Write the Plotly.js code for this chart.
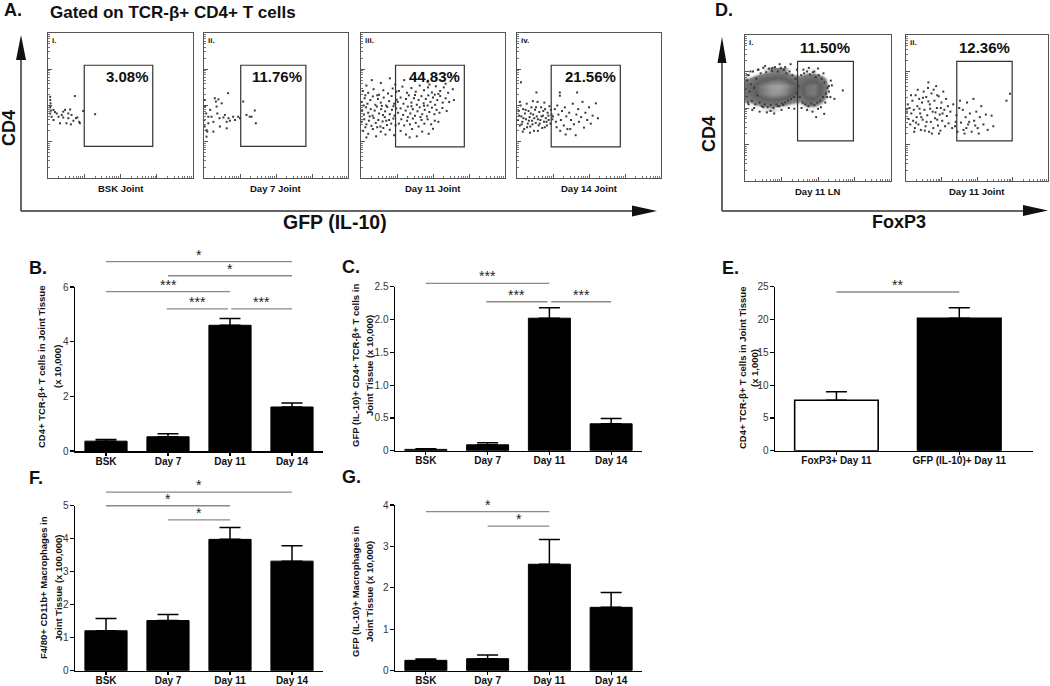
<!DOCTYPE html>
<html><head><meta charset="utf-8">
<script src="https://cdn.plot.ly/plotly-3.0.1.min.js"></script>
<style>html,body{margin:0;padding:0;background:#fff}#chart{width:1050px;height:686px}</style>
</head><body><div id="chart"></div>
<script>
// ================= DATA =================
// Bar charts (means, SEM = error bar above mean)
const dayCats = ['BSK', 'Day 7', 'Day 11', 'Day 14'];
const cd4Counts = [0.36, 0.52, 4.60, 1.61];        // B (x 10,000)
const cd4Sem    = [0.06, 0.11, 0.25, 0.15];
const gfpCd4Counts = [0.02, 0.09, 2.02, 0.41];     // C (x 10,000)
const gfpCd4Sem    = [0.01, 0.03, 0.16, 0.08];
const eCats = ['FoxP3+ Day 11', 'GFP (IL-10)+ Day 11'];
const eCounts = [7.7, 20.2];                        // E (x 1,000)
const eSem    = [1.3, 1.6];
const macCounts = [1.21, 1.52, 3.98, 3.32];         // F (x 100,000)
const macSem    = [0.37, 0.18, 0.36, 0.47];
const gfpMacCounts = [0.25, 0.29, 2.57, 1.53];      // G (x 10,000)
const gfpMacSem    = [0.03, 0.09, 0.60, 0.36];

// significance brackets: [fromCat, toCat, level, stars]
const sigB = [[0, 3, 6.93, '*'], [1, 3, 6.41, '*'], [0, 2, 5.83, '***'], [0.98, 1.97, 5.2, '***'], [2.02, 3, 5.2, '***']];
const sigC = [[0, 2, 2.55, '***'], [0.98, 1.97, 2.27, '***'], [2.03, 3, 2.27, '***']];
const sigE = [[0, 1, 24.2, '**']];
const sigF = [[0, 3, 5.41, '*'], [0, 2, 5.0, '*'], [1, 2, 4.57, '*']];
const sigG = [[0, 2, 3.84, '*'], [1, 2, 3.49, '*']];

// Flow cytometry events, in log decades [GFP/FoxP3, CD4]
const flowBSK = [[0.06,2.24],[0.06,2.15],[0.07,2.06],[0.06,1.95],[0.08,1.86],[0.06,1.78],[0.10,1.69],[0.15,1.88],[0.19,1.82],[0.29,1.69],[0.38,1.74],[0.42,1.83],[0.47,1.88],[0.33,1.51],[0.51,1.51],[0.56,1.65],[0.61,1.89],[0.63,1.48],[0.65,1.74],[0.70,1.58],[0.74,2.26],[0.77,1.65],[0.81,1.67],[0.86,1.55],[0.88,1.51],[0.97,1.85],[1.30,1.76],[0.15,1.60],[0.24,1.78],[0.42,1.67],[0.56,1.78],[0.07,1.99]];
const flowDay7 = [[0.03,1.97],[0.06,1.78],[0.07,1.32],[0.09,1.28],[0.12,1.69],[0.17,1.88],[0.21,1.69],[0.26,1.55],[0.30,2.20],[0.33,2.11],[0.35,1.97],[0.37,1.78],[0.40,2.17],[0.43,1.65],[0.44,1.42],[0.49,2.06],[0.54,1.67],[0.58,1.74],[0.63,1.55],[0.67,2.34],[0.68,1.65],[0.72,1.58],[0.81,1.69],[0.86,1.60],[0.95,1.69],[1.00,1.65],[1.09,2.11],[1.18,1.74],[1.27,1.69],[1.32,1.69],[1.41,1.86],[1.44,1.51],[0.07,1.14],[0.26,1.28],[0.63,1.37],[0.12,1.51],[0.01,1.60],[0.02,1.42],[0.02,2.15]];
const flowDay11 = [[0.3,2.7],[0.55,2.62],[0.8,2.75],[0.15,2.55],[0.95,2.58],
 [0.05,2.4],[0.2,2.35],[0.35,2.45],[0.5,2.3],[0.62,2.42],[0.75,2.33],[0.88,2.47],[0.98,2.38],[0.12,2.28],
 [0.02,2.1],[0.1,2.2],[0.18,2.05],[0.26,2.15],[0.33,2.25],[0.4,2.02],[0.47,2.18],[0.55,2.08],[0.63,2.22],[0.7,2.0],[0.78,2.12],[0.85,2.26],[0.92,2.05],[0.99,2.16],[0.07,2.0],[0.45,2.28],
 [0.03,1.85],[0.08,1.75],[0.14,1.95],[0.2,1.8],[0.27,1.9],[0.32,1.72],[0.38,1.86],[0.44,1.97],[0.5,1.78],[0.56,1.9],[0.61,1.74],[0.67,1.84],[0.73,1.96],[0.8,1.76],[0.86,1.88],[0.93,1.72],[0.98,1.92],[0.24,1.7],[0.58,1.99],[0.9,1.98],
 [0.02,1.55],[0.09,1.62],[0.15,1.48],[0.22,1.58],[0.29,1.44],[0.35,1.66],[0.41,1.52],[0.48,1.6],[0.54,1.42],[0.6,1.56],[0.66,1.68],[0.72,1.46],[0.78,1.6],[0.84,1.5],[0.9,1.64],[0.96,1.45],[0.12,1.4],[0.45,1.4],[0.7,1.58],
 [0.06,1.3],[0.2,1.22],[0.33,1.35],[0.42,1.15],[0.55,1.28],[0.68,1.2],[0.8,1.33],[0.92,1.18],[0.15,1.12],[0.62,1.38],
 [1.2,2.7],[1.5,2.78],[1.85,2.65],[2.1,2.75],[2.35,2.6],[2.5,2.85],[1.7,2.9],
 [1.05,2.4],[1.15,2.52],[1.28,2.35],[1.4,2.48],[1.52,2.38],[1.63,2.55],[1.75,2.42],[1.86,2.5],[1.97,2.36],[2.08,2.53],[2.2,2.4],[2.3,2.5],[2.42,2.35],[2.55,2.45],[1.9,2.58],[2.15,2.32],
 [1.02,2.1],[1.1,2.22],[1.18,2.05],[1.25,2.18],[1.33,2.28],[1.4,2.08],[1.47,2.2],[1.55,2.02],[1.6,2.15],[1.68,2.26],[1.74,2.06],[1.8,2.18],[1.87,2.28],[1.93,2.1],[2.0,2.22],[2.06,2.02],[2.12,2.15],[2.2,2.26],[2.27,2.08],[2.35,2.2],[2.45,2.1],[2.58,2.15],[1.5,2.29],[1.85,2.0],[2.05,2.3],
 [1.03,1.8],[1.1,1.92],[1.17,1.74],[1.24,1.86],[1.3,1.97],[1.37,1.78],[1.44,1.9],[1.5,1.72],[1.57,1.84],[1.63,1.95],[1.7,1.76],[1.77,1.88],[1.83,1.7],[1.9,1.82],[1.97,1.94],[2.04,1.76],[2.1,1.88],[2.18,1.8],[2.26,1.93],[2.38,1.85],[1.4,1.98],[1.75,1.99],
 [1.05,1.5],[1.12,1.62],[1.2,1.45],[1.28,1.58],[1.36,1.48],[1.44,1.64],[1.52,1.52],[1.6,1.42],[1.68,1.6],[1.76,1.5],[1.85,1.62],[1.95,1.48],[2.05,1.58],[2.15,1.55],[1.3,1.68],[1.65,1.68],
 [1.1,1.3],[1.25,1.2],[1.42,1.35],[1.55,1.15],[1.7,1.28],[1.88,1.22],[2.0,1.36],[1.35,1.12]];
const flowDay14 = [[0.03,1.6],[0.05,1.85],[0.08,1.45],[0.1,2.0],[0.12,1.7],[0.15,1.55],[0.17,1.9],[0.2,1.35],[0.22,1.78],[0.25,1.62],[0.27,2.05],[0.3,1.5],[0.32,1.85],[0.35,1.68],[0.37,1.42],[0.4,1.95],[0.42,1.58],[0.45,1.75],[0.47,1.3],[0.5,1.88],[0.52,1.52],[0.55,1.7],[0.57,2.1],[0.6,1.45],[0.62,1.82],[0.65,1.6],[0.67,1.95],[0.7,1.38],[0.72,1.72],[0.75,1.55],[0.78,1.9],[0.8,1.65],[0.83,1.45],[0.85,1.8],[0.88,1.6],[0.9,1.98],[0.93,1.5],[0.96,1.75],[0.98,1.62],
 [0.06,1.72],[0.13,1.48],[0.18,1.65],[0.24,1.88],[0.28,1.4],[0.33,1.58],[0.38,1.78],[0.43,1.48],[0.48,1.65],[0.53,1.95],[0.58,1.62],[0.63,1.5],[0.68,1.7],[0.73,1.85],[0.77,1.4],[0.82,1.55],[0.87,1.72],[0.94,1.88],[0.16,1.28],[0.36,1.25],[0.58,1.3],[0.08,2.1],[0.44,2.12],[0.76,2.08],
 [1.0,1.7],[1.05,1.9],[1.08,1.55],[1.12,2.0],[1.15,1.75],[1.19,2.36],[1.19,2.27],[1.22,1.6],[1.25,1.85],[1.3,1.45],[1.33,1.95],[1.37,1.7],[1.4,1.35],[1.45,1.8],[1.5,1.6],[1.55,2.05],[1.58,1.48],[1.63,1.18],[1.67,2.36],[1.65,1.75],[1.7,1.9],[1.72,1.55],[1.78,1.68],[1.82,2.1],[1.86,1.39],[1.9,1.8],[1.95,1.6],[2.0,1.95],[2.05,1.5],[2.1,1.72],[2.19,2.06],[2.25,1.65],[1.2,1.3],[1.35,1.2],[1.48,1.35],[1.1,1.4],
 [0.11,2.64],[0.54,2.36]];
const foxLN = [[0.02,2.5],[0.04,2.3],[0.06,2.75],[0.08,2.15],[0.1,2.9],[0.13,2.45],[0.16,2.65],[0.19,2.2],[0.22,3.0],[0.25,2.55],[0.28,2.1],[0.31,2.8],[0.34,2.35],[0.37,3.05],[0.4,2.15],[0.43,2.95],[0.46,2.05],[0.5,3.1],[0.54,2.1],[0.58,2.98],[0.62,2.02],[0.66,3.08],[0.7,2.08],[0.74,3.02],[0.78,2.0],[0.82,3.12],[0.86,2.1],[0.9,3.0],[0.94,2.05],[0.98,3.1],[1.02,2.12],[1.06,3.05],[1.1,2.15],[1.14,2.95],[1.18,2.2],[1.22,3.0],[1.26,2.25],[1.3,2.9],[1.34,2.3],[1.38,2.8],[1.42,2.4],[1.46,2.6],[1.5,2.3],[1.54,2.9],[1.58,2.15],[1.62,2.95],[1.66,2.1],[1.7,3.0],[1.74,2.05],[1.78,2.92],[1.82,2.12],[1.86,2.98],[1.9,2.08],[1.94,2.85],[1.98,2.15],[2.02,2.9],[2.06,2.2],[2.1,2.8],[2.14,2.3],[2.18,2.7],[2.22,2.4],[2.26,2.55],[2.3,2.45],[2.34,2.3],[2.38,2.62],
 [0.05,2.9],[0.1,2.1],[0.2,1.95],[0.35,3.05],[0.4,1.9],[0.55,3.15],[0.6,1.88],[0.75,3.1],[0.8,1.85],[0.95,3.2],[1.0,1.95],[1.1,3.12],[1.2,2.0],[1.25,3.2],[1.35,1.98],[1.42,3.05],[0.7,1.92],[0.5,2.02],[0.9,2.05],[1.6,3.05],[1.75,3.1],[1.9,3.0],[2.0,3.08],[2.15,2.95],[1.55,2.0],[1.7,1.95],[1.85,1.9],[2.0,1.98],[2.08,2.02],[2.17,1.84],[2.25,2.3],[2.3,2.6],[2.45,2.25],[2.35,2.75],[2.68,2.48],[2.2,2.15],[1.95,1.75],[0.25,2.0],[1.05,2.08],[0.15,3.0]];
// event density of the LN sample (relative), rows = CD4 decades, cols = FoxP3 decades
const foxLNDensX = [0.1,0.3,0.5,0.7,0.9,1.1,1.3,1.5,1.7,1.9,2.1,2.3,2.5];
const foxLNDensY = [2.0,2.2,2.4,2.6,2.8,3.0];
const foxLNDensZ = [
 [0.05,0.15,0.2,0.25,0.2,0.15,0.1,0.1,0.2,0.2,0.1,0,0],
 [0.3,0.4,0.5,0.55,0.5,0.45,0.35,0.3,0.5,0.5,0.3,0.1,0],
 [0.45,0.6,0.75,0.9,0.9,0.8,0.6,0.5,0.7,0.75,0.5,0.15,0],
 [0.5,0.65,0.8,0.95,1.0,0.9,0.7,0.55,0.7,0.75,0.55,0.2,0],
 [0.3,0.45,0.55,0.6,0.65,0.6,0.45,0.4,0.5,0.55,0.4,0.15,0],
 [0,0.1,0.2,0.3,0.35,0.3,0.15,0.1,0.2,0.2,0.1,0,0]];
const foxJoint = [[0.03,1.9],[0.05,2.1],[0.07,1.7],[0.1,2.0],[0.12,1.55],[0.15,1.85],[0.18,2.2],[0.2,1.65],[0.22,1.95],[0.25,1.45],[0.27,2.35],[0.3,1.75],[0.32,2.05],[0.35,1.55],[0.37,2.25],[0.4,1.85],[0.42,1.4],[0.45,2.15],[0.47,1.68],[0.5,2.45],[0.52,1.95],[0.55,1.5],[0.57,2.3],[0.6,1.8],[0.62,2.55],[0.65,1.35],[0.67,2.1],[0.7,1.62],[0.72,2.4],[0.75,1.9],[0.77,1.45],[0.8,2.2],[0.82,1.72],[0.85,2.6],[0.87,2.0],[0.9,1.52],[0.92,2.32],[0.95,1.82],[0.97,1.38],[1.0,2.15],[1.02,1.65],[1.05,2.45],[1.08,1.95],[1.1,1.5],[1.13,2.25],[1.15,1.78],[1.18,2.05],[1.2,1.58],[1.25,1.9],[1.3,1.45],[1.33,2.1],
 [0.14,2.35],[0.28,1.6],[0.38,1.98],[0.48,2.28],[0.58,1.62],[0.68,1.98],[0.78,2.5],[0.88,1.68],[0.98,2.0],[0.43,1.75],[0.63,2.18],[0.83,1.88],[0.53,1.38],[0.73,1.3],[0.93,1.3],[0.33,2.5],[0.63,2.7],[0.88,2.35],[1.03,1.85],[0.23,1.35],
 [1.38,1.5],[1.42,1.8],[1.45,1.35],[1.5,2.0],[1.55,1.6],[1.6,1.95],[1.62,1.4],[1.68,1.75],[1.72,2.15],[1.75,1.55],[1.8,1.85],[1.85,1.35],[1.9,2.25],[1.92,1.65],[1.98,1.9],[2.02,1.45],[2.08,1.75],[2.12,2.05],[2.18,1.55],[2.25,1.82],[2.3,1.4],[2.41,1.79],[2.46,1.5],[1.52,2.2],[1.65,1.3],[1.78,1.62],[1.95,1.52],[2.05,1.3],[2.83,2.2],[2.93,2.39],[1.4,1.62],[1.7,1.45]];

// gates [x0, x1, y0, y1] in decades, and gate percentages
const gatesA = [[1.0,2.89,0.87,3.11],[1.02,2.83,0.87,3.11],[0.96,2.87,0.86,3.11],[0.95,2.87,0.86,3.11]];
const pctA = ['3.08%', '11.76%', '44.83%', '21.56%'];
const samplesA = ['BSK Joint', 'Day 7 Joint', 'Day 11 Joint', 'Day 14 Joint'];
const gatesD = [[1.44,2.97,1.10,3.28],[1.43,2.99,1.10,3.28]];
const pctD = ['11.50%', '12.36%'];
const samplesD = ['Day 11 LN', 'Day 11 Joint'];
const romans = ['i.', 'ii.', 'iii.', 'iv.'];

// ================= BUILD =================
const FONT = 'Liberation Sans, Arial, Helvetica, sans-serif';
const W = 1050, H = 686;
const px = v => v / W, py = v => 1 - v / H;
const data = [], shapes = [], annotations = [];
const layout = {
  width: W, height: H, autosize: false, margin: {l:0, r:0, t:0, b:0},
  paper_bgcolor: '#fff', plot_bgcolor: 'rgba(0,0,0,0)', showlegend: false,
  font: {family: FONT, color: '#111'}, hovermode: false
};
let axN = 0;
function newAxes() { axN++; const s = axN === 1 ? '' : String(axN); return {xk:'xaxis'+s, yk:'yaxis'+s, xr:'x'+s, yr:'y'+s}; }
const minorVals = [];
for (let d = 0; d < 4; d++) for (let m = 2; m <= 9; m++) minorVals.push(d + Math.log10(m));
function flowAxis(dom, anchor) {
  return {domain: dom, anchor: anchor, range: [0, 4], showline: true, mirror: true, linecolor: '#555', linewidth: 1,
    ticks: 'inside', ticklen: 4, tickwidth: 1, tickcolor: '#555', tickmode: 'array', tickvals: [0,1,2,3,4],
    showticklabels: false, showgrid: false, zeroline: false, fixedrange: true,
    minor: {tickmode: 'array', tickvals: minorVals.slice(), ticks: 'inside', ticklen: 2, tickwidth: 1, tickcolor: '#777'}};
}
function txt(o) { return Object.assign({showarrow: false}, o); }

function flowPanel(bx, by, pts, gate, roman, sample, pct, centered, dens) {
  const a = newAxes();
  layout[a.xk] = flowAxis([px(bx[0]), px(bx[1])], a.yr);
  layout[a.yk] = flowAxis([py(by[1]), py(by[0])], a.xr);
  if (dens) {
    data.push({type: 'heatmap', x: dens.x, y: dens.y, z: dens.z, xaxis: a.xr, yaxis: a.yr, zsmooth: 'best',
      zmin: 0, zmax: 1, showscale: false, hoverinfo: 'skip',
      colorscale: [[0,'rgba(255,255,255,0)'],[0.15,'rgba(255,255,255,0)'],[0.3,'rgba(85,85,85,0.75)'],[0.6,'rgba(95,95,95,1)'],[1,'rgba(165,165,165,1)']]});
  }
  data.push({type: 'scatter', mode: 'markers', x: pts.map(p => p[0]), y: pts.map(p => p[1]), xaxis: a.xr, yaxis: a.yr,
    marker: {size: 2, color: '#3a3a3a', symbol: 'square'}, hoverinfo: 'skip'});
  shapes.push({type: 'rect', xref: a.xr, yref: a.yr, x0: gate[0], x1: gate[1], y0: gate[2], y1: gate[3], line: {color: '#333', width: 1.2}});
  annotations.push(txt({xref: a.xr + ' domain', yref: a.yr + ' domain', x: 0.012, y: 0.99, xanchor: 'left', yanchor: 'top', text: roman, font: {size: 8, weight: 'bold', color: '#111'}}));
  annotations.push(txt({xref: a.xr + ' domain', yref: a.yr + ' domain', x: 0.5, y: 0, xanchor: 'center', yanchor: 'top', yshift: -3, text: sample, font: {size: 9.5, weight: 'bold', color: '#111'}}));
  if (centered) {
    annotations.push(txt({xref: a.xr, yref: a.yr + ' domain', x: (gate[0] + gate[1]) / 2, y: 1, xanchor: 'center', yanchor: 'middle', yshift: -13, text: pct, font: {size: 15, weight: 'bold', color: '#111'}}));
  } else {
    annotations.push(txt({xref: a.xr, yref: a.yr, x: gate[1], y: gate[3], xanchor: 'right', yanchor: 'top', xshift: -2, yshift: -1, text: pct, font: {size: 15, weight: 'bold', color: '#111'}}));
  }
}

function barPanel(bx, top, bottom, sigTop, cats, xr, vals, sem, colors, yMax, tv, tt, sig, lineW) {
  const a = newAxes();
  layout[a.xk] = {domain: [px(bx[0]), px(bx[1])], anchor: a.yr, type: 'category', range: xr, showline: true, linecolor: '#000', linewidth: 1.5,
    ticks: 'outside', ticklen: 3, tickwidth: 1.2, tickcolor: '#000', showgrid: false, zeroline: false, fixedrange: true,
    ticklabelstandoff: -3, tickfont: {size: 10, weight: 'bold', color: '#111'}};
  layout[a.yk] = {domain: [py(bottom), py(top)], anchor: a.xr, range: [0, yMax], showline: true, linecolor: '#000', linewidth: 1.5,
    ticks: 'outside', ticklen: 4, tickwidth: 1.2, tickcolor: '#000', tickmode: 'array', tickvals: tv, ticktext: tt,
    ticklabelstandoff: -1, showgrid: false, zeroline: false, fixedrange: true, tickfont: {size: 10, color: '#333'}};
  data.push({type: 'bar', x: cats, y: vals, xaxis: a.xr, yaxis: a.yr, width: 0.68,
    marker: {color: colors, line: {color: '#000', width: lineW}},
    error_y: {type: 'data', symmetric: false, array: sem, arrayminus: sem.map(() => 0), color: '#000', thickness: 1.5, width: 10.5},
    hoverinfo: 'skip'});
  // overlay axes for significance brackets, same scale as the bar axis, extended upward
  const s = newAxes();
  const sigMax = yMax * (bottom - sigTop) / (bottom - top);
  layout[s.xk] = {domain: [px(bx[0]), px(bx[1])], anchor: s.yr, range: xr, visible: false, fixedrange: true};
  layout[s.yk] = {domain: [py(bottom), py(sigTop)], anchor: s.xr, range: [0, sigMax], visible: false, fixedrange: true};
  sig.forEach(g => {
    shapes.push({type: 'line', xref: s.xr, yref: s.yr, x0: g[0], x1: g[1], y0: g[2], y1: g[2], line: {color: '#8a8a8a', width: 1.4}});
    annotations.push(txt({xref: s.xr, yref: s.yr, x: (g[0] + g[1]) / 2, y: g[2], xanchor: 'center', yanchor: 'bottom', yshift: -3, text: g[3], font: {size: 14, color: '#222'}}));
  });
}

// ---- panel A flow plots ----
const boxAx = [[48,193],[204,348],[361,505],[517,661]];
const flowA = [flowBSK, flowDay7, flowDay11, flowDay14];
for (let i = 0; i < 4; i++) flowPanel(boxAx[i], [33,178], flowA[i], gatesA[i], romans[i], samplesA[i], pctA[i], false, null);
// ---- panel D flow plots ----
flowPanel([745,891], [35,181], foxLN, gatesD[0], 'i.', samplesD[0], pctD[0], true, {x: foxLNDensX, y: foxLNDensY, z: foxLNDensZ});
flowPanel([906,1048], [35,181], foxJoint, gatesD[1], 'ii.', samplesD[1], pctD[1], true, null);

// ---- bar panels ----
barPanel([75,323], 287, 451, 250, dayCats, [-0.5,3.5], cd4Counts, cd4Sem, ['#000','#000','#000','#000'], 6, [0,2,4,6], ['0','2','4','6'], sigB, 1);
barPanel([395,642], 286.7, 450.7, 265, dayCats, [-0.5,3.5], gfpCd4Counts, gfpCd4Sem, ['#000','#000','#000','#000'], 2.5, [0,0.5,1,1.5,2,2.5], ['0','0.5','1.0','1.5','2.0','2.5'], sigC, 1);
barPanel([775,1033], 286.7, 450.7, 270, eCats, [-0.5,1.6], eCounts, eSem, ['#fff','#000'], 25, [0,5,10,15,20,25], ['0','5','10','15','20','25'], sigE, 1.6);
barPanel([75,323], 505.7, 670.7, 475, dayCats, [-0.5,3.5], macCounts, macSem, ['#000','#000','#000','#000'], 5, [0,1,2,3,4,5], ['0','1','2','3','4','5'], sigF, 1);
barPanel([395,642], 505, 670.7, 490, dayCats, [-0.5,3.5], gfpMacCounts, gfpMacSem, ['#000','#000','#000','#000'], 4, [0,1,2,3,4], ['0','1','2','3','4'], sigG, 1);

// ---- decorations: axis arrows ----
function pline(x0, y0, x1, y1) { shapes.push({type: 'line', xref: 'paper', yref: 'paper', x0: px(x0), y0: py(y0), x1: px(x1), y1: py(y1), line: {color: '#333', width: 1.5}}); }
function ptri(p) { shapes.push({type: 'path', xref: 'paper', yref: 'paper', path: 'M' + p.map(q => px(q[0]) + ',' + py(q[1])).join(' L') + ' Z', fillcolor: '#111', line: {width: 0}}); }
pline(21, 211, 21, 58); ptri([[21,35],[16,60],[26,60]]);
pline(21, 211, 634, 211); ptri([[657,211],[632,205.5],[632,216.5]]);
pline(722, 211, 722, 60); ptri([[722,37],[717.5,63],[726.5,63]]);
pline(722, 211, 1025, 211); ptri([[1048,210.5],[1023,205],[1023,216]]);

// ---- texts ----
function ptext(x, y, t, size, extra) {
  annotations.push(txt(Object.assign({xref: 'paper', yref: 'paper', x: px(x), y: py(y), xanchor: 'center', yanchor: 'middle',
    text: t, font: {size: size, weight: 'bold', color: '#111'}}, extra || {})));
}
ptext(2, 10, 'A.', 18, {xanchor: 'left'});
ptext(48, 12, 'Gated on TCR-β+ CD4+ T cells', 17, {xanchor: 'left'});
ptext(9, 128, 'CD4', 18, {textangle: -90});
ptext(335, 222, 'GFP (IL-10)', 19.5);
ptext(713, 10, 'D.', 18, {xanchor: 'left'});
ptext(709, 134, 'CD4', 18, {textangle: -90});
ptext(899, 222, 'FoxP3', 18);
ptext(27, 268, 'B.', 18, {xanchor: 'left'});
ptext(340, 267, 'C.', 18, {xanchor: 'left'});
ptext(720, 268, 'E.', 18, {xanchor: 'left'});
ptext(27, 478, 'F.', 18, {xanchor: 'left'});
ptext(340, 477, 'G.', 18, {xanchor: 'left'});
// y-axis titles
ptext(41, 367, 'CD4+ TCR-β+ T cells in Joint Tissue', 9.5, {textangle: -90});
ptext(57, 367, '(x 10,000)', 9.5, {textangle: -90});
ptext(355, 366, 'GFP (IL-10)+ CD4+ TCR-β+ T cells in', 9.5, {textangle: -90});
ptext(369, 366, 'Joint Tissue (x 10,000)', 9.5, {textangle: -90});
ptext(742, 368, 'CD4+ TCR-β+ T cells in Joint Tissue', 9.5, {textangle: -90});
ptext(754, 368, '(x 1,000)', 9.5, {textangle: -90});
ptext(43, 588, 'F4/80+ CD11b+ Macrophages in', 9.5, {textangle: -90});
ptext(58, 588, 'Joint Tissue (x 100,000)', 9.5, {textangle: -90});
ptext(355, 592, 'GFP (IL-10)+ Macrophages in', 9.5, {textangle: -90});
ptext(369, 592, 'Joint Tissue (x 10,000)', 9.5, {textangle: -90});

layout.shapes = shapes;
layout.annotations = annotations;
Plotly.newPlot('chart', data, layout, {staticPlot: true, displayModeBar: false});
</script></body></html>
